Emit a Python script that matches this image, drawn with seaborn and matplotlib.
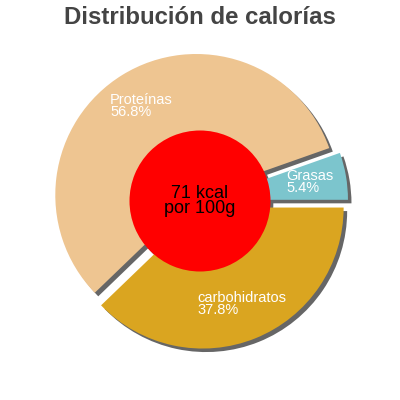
import matplotlib
matplotlib.use("Agg")
import matplotlib.pyplot as plt
import seaborn as sns

sns.set_theme(style="white")
plt.rcParams['font.family'] = ['Liberation Sans', 'DejaVu Sans']

# data
nutrients = ["Grasas", "Proteínas", "carbohidratos"]
percents = [5.4, 56.8, 37.8]
slice_colors = ["#7cc5cd", "#eec591", "#daa520"]
title = "Distribución de calorías"
center_label = "71 kcal\npor 100g"

explode = [0.05, 0.05, 0.05]
shadow_grey = "#666666"
off = 0.025
no_edge = dict(linewidth=0)

fig = plt.figure(figsize=(4, 4), dpi=100)
ax = fig.add_axes([0, 0, 1, 1])

# shadow copies, shifted right/down
ax.pie(percents, explode=explode, startangle=0, counterclock=True,
       colors=[shadow_grey] * len(percents), center=(off, -off), radius=1.0,
       wedgeprops=no_edge)
ax.pie([1], colors=[shadow_grey], radius=0.5, center=(off * 0.8, -off * 0.8),
       wedgeprops=no_edge)

labels = [f"{n}\n{p:.1f}%" for n, p in zip(nutrients, percents)]
wedges, texts = ax.pie(percents, explode=explode, startangle=0, counterclock=True,
                       colors=slice_colors, labels=labels, labeldistance=0.74,
                       radius=1.0, wedgeprops=no_edge,
                       textprops=dict(color="white", fontsize=10.5, linespacing=0.8))
for t in texts:
    t.set_horizontalalignment("center")
    t.set_verticalalignment("center")
    t.set_multialignment("left")

ax.pie([1], colors=["#ff0000"], radius=0.5, wedgeprops=no_edge)
ax.text(0, 0, center_label, ha="center", va="center", fontsize=13,
        color="black", linespacing=0.85)

r_px = 141.0
ax.set_xlim(-200 / r_px, 200 / r_px)
ax.set_ylim(-199 / r_px, 201 / r_px)
ax.set_aspect("auto")
ax.axis("off")

fig.text(0.5, 1 - 24 / 400, title, ha="center", va="baseline",
         fontsize=17.3, fontweight="bold", color="#444444")

fig.savefig("out.png", dpi=100, facecolor="white")
